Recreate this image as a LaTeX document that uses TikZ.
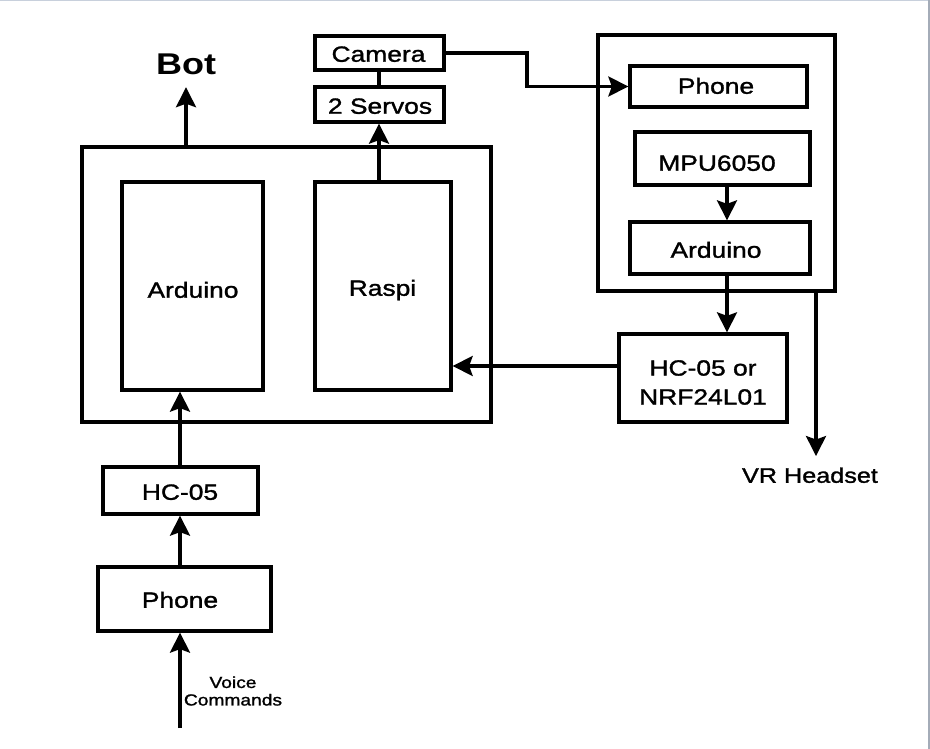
\documentclass[tikz,border=0pt]{standalone}
\usepackage{fontspec}
\setmainfont{Liberation Sans}[FakeStretch=1.2]
\newfontfamily\labf{Liberation Sans}[FakeStretch=1.2,FakeBold=1.4]
\usetikzlibrary{arrows.meta}
\definecolor{frametop}{HTML}{C8D0DC}
\definecolor{frameright}{HTML}{A4ACB8}
\tikzset{
  box/.style={draw=black, line width=3.3pt, minimum width=#1, inner sep=0pt},
  txtbase/.style={inner sep=0pt, font=\labf\fontsize{22}{29}\selectfont, align=center},
  txt/.style={txtbase, text height=15.5pt, text depth=0pt},
  arr/.style={line width=3.3pt, -{Stealth[length=20pt 0,width=20pt 0,inset=3.5pt 0]}},
  ln/.style={line width=3.3pt}
}
\begin{document}
\begin{tikzpicture}[x=1pt,y=-1pt]
\useasboundingbox (0,0) rectangle (930,749);
\fill[white] (0,0) rectangle (930,749);
\draw[frametop, line width=1.5pt] (0,0.75) -- (930,0.75);
\draw[frameright, line width=2pt] (929,0) -- (929,749);
% left big box
\node[box=409pt, minimum height=275pt] (big) at (286.5,284.5) {};
\node[box=141pt, minimum height=208pt] (ard) at (192.5,286) {};
\node[txt] (ardt) at (193,290) {Arduino};
\node[box=136pt, minimum height=208pt] (raspi) at (383,286) {};
\node[txt] (raspit) at (382.5,288) {Raspi};
\node[box=129pt, minimum height=34pt] (camera) at (379.5,53) {};
\node[txt] (camerat) at (378.5,54) {Camera};
\node[box=129pt, minimum height=35pt] (servos) at (379.5,104.5) {};
\node[txt] (servost) at (380,106) {2 Servos};
\node[inner sep=0pt, text height=22pt, text depth=0pt, font=\bfseries\fontsize{30}{34}\selectfont] (bot) at (186,64) {Bot};
% right box
\node[box=237pt, minimum height=256pt] (rbox) at (716.5,163) {};
\node[box=177pt, minimum height=41pt] (rphone) at (718.5,86.5) {};
\node[txt] (rphonet) at (716,86) {Phone};
\node[box=175pt, minimum height=53pt] (mpu) at (722.5,158.5) {};
\node[txt] (mput) at (717,163) {MPU6050};
\node[box=180pt, minimum height=52pt] (rard) at (720,248) {};
\node[txt] (rardt) at (716,250) {Arduino};
\node[box=168pt, minimum height=88pt] (hcnrf) at (703,378) {};
\node[txtbase] (hcnrft) at (703,382.5) {HC-05 or\\NRF24L01};
\node[txt, font=\labf\fontsize{21}{24}\selectfont] (vr) at (810,475) {VR Headset};
% lower left
\node[box=155pt, minimum height=47pt] (hc05) at (180.5,490.5) {};
\node[txt] (hc05t) at (180,492) {HC-05};
\node[box=173pt, minimum height=64pt] (lphone) at (184.5,599) {};
\node[txt] (lphonet) at (180,600) {Phone};
\node[inner sep=0pt, align=center, font=\labf\fontsize{16}{17.5}\selectfont] (voice) at (233,691) {Voice\\Commands};
% helper coordinates
\coordinate (bend) at (527,0);
\coordinate (sx) at (379,0);
\coordinate (ax) at (727,0);
\coordinate (ay) at (0,366);
\coordinate (lx) at (180,0);
\coordinate (vrx) at (816,0);
\coordinate (vstart) at (180,728);
% connectors
\draw[arr] (big.north -| bot.south) -- ([yshift=-12pt]bot.south);
\draw[ln] (camera.south -| sx) -- (servos.north -| sx);
\draw[arr] (raspi.north -| sx) -- (servos.south -| sx);
\draw[arr] (camera.east) -- (camera.east -| bend) |- (rphone.west);
\draw[arr] (mpu.south -| ax) -- (rard.north -| ax);
\draw[arr] (rard.south -| ax) -- (hcnrf.north -| ax);
\draw[arr] (hcnrf.west |- ay) -- (raspi.east |- ay);
\draw[arr] (rbox.south -| vrx) -- ([yshift=11pt]vr.north -| vrx);
\draw[arr] (hc05.north -| lx) -- (ard.south -| lx);
\draw[arr] (lphone.north -| lx) -- (hc05.south -| lx);
\draw[arr] (vstart) -- (lphone.south -| lx);
\end{tikzpicture}
\end{document}
